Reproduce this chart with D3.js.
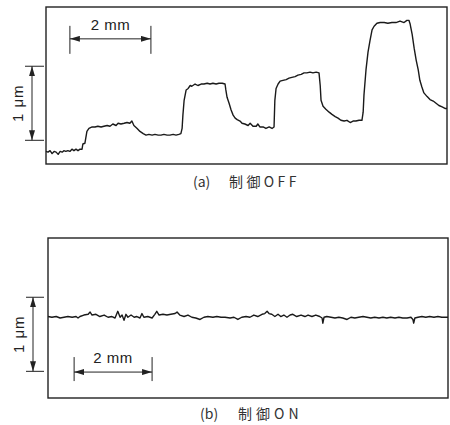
<!DOCTYPE html>
<html>
<head>
<meta charset="utf-8">
<script src="https://cdn.jsdelivr.net/npm/d3@7"></script>
<style>
  body { margin: 0; background: #fff; }
  svg { display: block; }
  .frame { fill: none; stroke: #222; stroke-width: 1.4; }
  .trace { fill: none; stroke: #1a1a1a; stroke-width: 1.4; stroke-linejoin: round; }
  .bar { stroke: #222; stroke-width: 1; }
  .lbl { font-family: "Liberation Sans", Arial, sans-serif; font-size: 15px; fill: #222; }
  .cap { font-family: "Noto Sans CJK JP", sans-serif; font-size: 14px; fill: #333; }
</style>
</head>
<body>
<svg width="450" height="425"></svg>
<script>
// (a) control OFF : position (mm) / height (um)
var offX = [0,0.05,0.10,0.15,0.20,0.25,0.30,0.35,0.40,0.44,0.49,0.54,0.59,0.64,0.69,0.74,0.79,0.84,0.89,0.91,0.96,1.01,1.06,1.14,1.21,1.28,1.36,1.43,1.51,1.58,1.65,1.73,1.78,1.85,1.93,2.00,2.07,2.12,2.17,2.25,2.32,2.40,2.47,2.54,2.62,2.69,2.77,2.84,2.91,2.99,3.06,3.14,3.21,3.28,3.33,3.36,3.38,3.41,3.46,3.51,3.56,3.60,3.68,3.75,3.83,3.90,3.98,4.05,4.12,4.20,4.27,4.35,4.42,4.44,4.47,4.52,4.57,4.62,4.67,4.72,4.79,4.84,4.91,4.99,5.04,5.11,5.19,5.23,5.28,5.36,5.43,5.51,5.58,5.63,5.65,5.68,5.73,5.78,5.85,5.93,6.00,6.07,6.15,6.22,6.30,6.37,6.44,6.52,6.59,6.67,6.74,6.77,6.79,6.84,6.91,6.99,7.06,7.14,7.21,7.28,7.36,7.43,7.51,7.58,7.65,7.73,7.80,7.83,7.85,7.90,7.95,8.00,8.05,8.10,8.17,8.25,8.35,8.44,8.54,8.64,8.74,8.84,8.91,8.96,8.99,9.04,9.09,9.14,9.19,9.23,9.28,9.33,9.41,9.48,9.56,9.63,9.70,9.78,9.85,9.90];
var offY = [-0.15,-0.16,-0.14,-0.18,-0.15,-0.16,-0.19,-0.15,-0.16,-0.14,-0.15,-0.14,-0.15,-0.12,-0.14,-0.12,-0.14,-0.12,-0.12,-0.05,-0.04,0.12,0.16,0.18,0.18,0.19,0.18,0.19,0.20,0.19,0.22,0.20,0.23,0.22,0.23,0.24,0.23,0.26,0.20,0.16,0.12,0.09,0.07,0.08,0.07,0.08,0.07,0.07,0.08,0.07,0.07,0.08,0.07,0.08,0.09,0.16,0.34,0.54,0.68,0.70,0.74,0.73,0.76,0.74,0.76,0.76,0.77,0.76,0.77,0.76,0.77,0.77,0.76,0.68,0.58,0.50,0.41,0.34,0.30,0.28,0.26,0.23,0.22,0.20,0.23,0.19,0.19,0.22,0.18,0.18,0.16,0.18,0.16,0.18,0.54,0.70,0.76,0.80,0.81,0.82,0.84,0.85,0.86,0.88,0.89,0.91,0.91,0.92,0.91,0.92,0.91,0.74,0.54,0.46,0.42,0.38,0.35,0.32,0.30,0.27,0.26,0.27,0.24,0.26,0.26,0.27,0.27,0.38,0.61,0.95,1.19,1.35,1.49,1.54,1.58,1.59,1.59,1.58,1.59,1.59,1.61,1.59,1.62,1.62,1.57,1.43,1.24,1.08,0.95,0.81,0.72,0.64,0.59,0.55,0.53,0.50,0.47,0.45,0.43,0.43];

// (b) control ON
var onX = [0,0.10,0.21,0.31,0.41,0.51,0.62,0.72,0.77,0.82,0.92,1.03,1.08,1.13,1.23,1.33,1.44,1.54,1.64,1.72,1.79,1.85,1.90,1.95,2.00,2.05,2.13,2.21,2.28,2.36,2.41,2.46,2.56,2.67,2.74,2.79,2.85,2.95,3.05,3.15,3.26,3.31,3.38,3.49,3.59,3.69,3.79,3.90,4.00,4.10,4.23,4.33,4.44,4.54,4.67,4.77,4.87,4.97,5.08,5.18,5.28,5.38,5.49,5.56,5.62,5.67,5.74,5.82,5.90,5.97,6.05,6.13,6.21,6.28,6.38,6.49,6.59,6.67,6.77,6.87,6.97,7.03,7.05,7.08,7.15,7.26,7.36,7.46,7.56,7.67,7.77,7.87,7.97,8.08,8.18,8.28,8.38,8.49,8.59,8.69,8.79,8.90,9.00,9.10,9.21,9.31,9.36,9.38,9.41,9.49,9.59,9.69,9.79,9.90,10.00,10.10,10.21,10.26];
var onY = [0.74,0.73,0.74,0.72,0.73,0.74,0.73,0.74,0.72,0.74,0.76,0.77,0.80,0.76,0.77,0.74,0.76,0.73,0.74,0.72,0.81,0.73,0.76,0.69,0.77,0.73,0.76,0.73,0.74,0.72,0.78,0.73,0.74,0.72,0.77,0.81,0.76,0.77,0.76,0.77,0.78,0.80,0.76,0.74,0.76,0.73,0.72,0.70,0.73,0.74,0.73,0.74,0.73,0.73,0.72,0.73,0.70,0.73,0.74,0.73,0.76,0.74,0.77,0.78,0.81,0.78,0.77,0.74,0.77,0.74,0.76,0.73,0.76,0.77,0.74,0.76,0.74,0.76,0.74,0.76,0.74,0.72,0.65,0.73,0.74,0.73,0.72,0.73,0.72,0.70,0.73,0.72,0.73,0.74,0.73,0.72,0.73,0.72,0.73,0.72,0.73,0.72,0.73,0.72,0.72,0.73,0.70,0.65,0.72,0.73,0.74,0.73,0.74,0.73,0.74,0.73,0.73,0.73];

var captions = ["(a)", "(b)"];
var captionText = ["制御OFF", "制御ON"];
var xBarText = "2 mm";
var yBarText = "1 \u03bcm";

var svg = d3.select("svg");

svg.append("defs").append("marker")
    .attr("id", "arr")
    .attr("viewBox", "0 0 10 6")
    .attr("refX", 10).attr("refY", 3)
    .attr("markerWidth", 10).attr("markerHeight", 6)
    .attr("markerUnits", "userSpaceOnUse")
    .attr("orient", "auto-start-reverse")
  .append("path")
    .attr("d", "M0,0 L10,3 L0,6 Z")
    .attr("fill", "#222");

var panels = [
  { xs: offX, ys: offY, left: 46, right: 447, top: 7, bottom: 164,
    xDom: [0, 9.9], yDom: [-0.32, 1.80], barX0: 0.59, barY: 1.37,
    tickUp: 13, tickDown: 15, yTickL: 25, yTickR: 44, yArrowX: 32,
    labX: 18, capY: 187, capA: 193, capB: 229, spacing: 3.4 },
  { xs: onX, ys: onY, left: 48, right: 448, top: 238, bottom: 398,
    xDom: [0, 10.26], yDom: [-0.36, 1.80], barX0: 0.67, barY: -0.01,
    tickUp: 15, tickDown: 9, yTickL: 26, yTickR: 44, yArrowX: 33,
    labX: 19, capY: 419, capA: 200, capB: 238, spacing: 4 }
];

panels.forEach(function(p, k) {
  var x = d3.scaleLinear().domain(p.xDom).range([p.left, p.right]);
  var y = d3.scaleLinear().domain(p.yDom).range([p.bottom, p.top]);
  var g = svg.append("g");

  g.append("rect")
    .attr("class", "frame")
    .attr("x", p.left).attr("y", p.top)
    .attr("width", p.right - p.left).attr("height", p.bottom - p.top);

  var line = d3.line()
    .x(function(d) { return x(d[0]); })
    .y(function(d) { return y(d[1]); });

  g.append("path")
    .attr("class", "trace")
    .attr("d", line(d3.zip(p.xs, p.ys)));

  // vertical 1 um bar
  [0, 1].forEach(function(v) {
    g.append("line").attr("class", "bar")
      .attr("x1", p.yTickL).attr("x2", p.yTickR)
      .attr("y1", y(v)).attr("y2", y(v));
  });
  g.append("line").attr("class", "bar")
    .attr("x1", p.yArrowX).attr("x2", p.yArrowX)
    .attr("y1", y(0)).attr("y2", y(1))
    .attr("marker-start", "url(#arr)")
    .attr("marker-end", "url(#arr)");
  g.append("text").attr("class", "lbl")
    .attr("transform", "translate(" + (p.labX + 5) + "," + y(0.5) + ") rotate(-90)")
    .attr("text-anchor", "middle")
    .attr("letter-spacing", 1)
    .text(yBarText);

  // horizontal 2 mm bar
  var by = y(p.barY);
  [p.barX0, p.barX0 + 2].forEach(function(v) {
    g.append("line").attr("class", "bar")
      .attr("x1", x(v)).attr("x2", x(v))
      .attr("y1", by - p.tickUp).attr("y2", by + p.tickDown);
  });
  g.append("line").attr("class", "bar")
    .attr("x1", x(p.barX0)).attr("x2", x(p.barX0 + 2))
    .attr("y1", by).attr("y2", by)
    .attr("marker-start", "url(#arr)")
    .attr("marker-end", "url(#arr)");
  g.append("text").attr("class", "lbl")
    .attr("x", x(p.barX0 + 1)).attr("y", by - 9)
    .attr("text-anchor", "middle")
    .attr("letter-spacing", 0.5)
    .text(xBarText);

  // caption
  g.append("text").attr("class", "cap")
    .attr("x", p.capA).attr("y", p.capY)
    .text(captions[k]);
  g.append("text").attr("class", "cap")
    .attr("x", p.capB).attr("y", p.capY)
    .attr("letter-spacing", p.spacing)
    .text(captionText[k]);
});
</script>
</body>
</html>
